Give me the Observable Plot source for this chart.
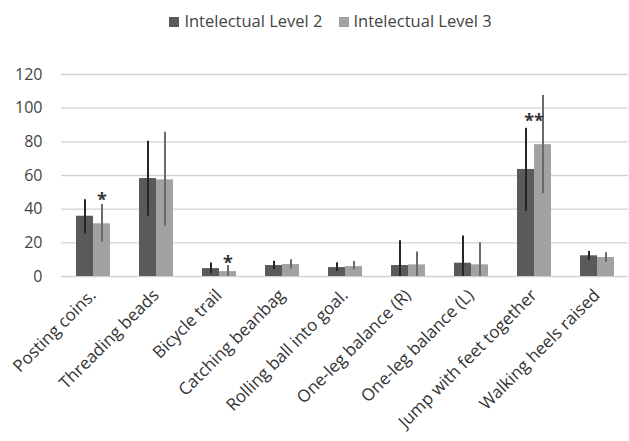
<!DOCTYPE html>
<html><head><meta charset="utf-8">
<script src="https://cdn.jsdelivr.net/npm/d3@7"></script>
<script src="https://cdn.jsdelivr.net/npm/@observablehq/plot@0.6"></script>
<style>
body{margin:0;background:#fff;font-family:"Open Sans",sans-serif;}
#legend{height:40px;display:flex;justify-content:center;align-items:center;gap:16px;font-size:16.5px;color:#444;padding-left:32px;box-sizing:border-box;}
#legend span.sw{display:inline-block;width:10px;height:10px;margin-right:5px;}
</style></head>
<body>
<div id="legend"></div>
<div id="chart"></div>
<script>
const categories = ["Posting coins.","Threading beads","Bicycle trail","Catching beanbag","Rolling ball into goal.","One-leg balance (R)","One-leg balance (L)","Jump with feet together","Walking heels raised"];
const series = ["Intelectual Level 2","Intelectual Level 3"];
const level2 = [35.8, 58.2, 4.7, 6.5, 5.3, 6.5, 7.9, 63.6, 12.3];
const level2Low = [25.3, 35.8, 1.5, 4.0, 3.0, 0, 0, 38.6, 9.7];
const level2High = [45.6, 80.4, 8.0, 9.1, 8.1, 21.2, 24.0, 88.1, 14.9];
const level3 = [31.3, 57.4, 2.9, 7.1, 5.9, 6.9, 6.9, 78.3, 11.3];
const level3Low = [20.4, 29.9, 0, 4.5, 4.0, 0, 0, 49.1, 8.5];
const level3High = [42.8, 85.7, 6.5, 9.9, 8.9, 14.5, 20.0, 107.5, 14.1];
const yTicks = [0, 20, 40, 60, 80, 100, 120];
const marks = [
  {category: "Posting coins.", series: "Intelectual Level 3", y: 47.5, label: "*"},
  {category: "Bicycle trail", series: "Intelectual Level 3", y: 10, label: "*"},
  {category: "Jump with feet together", series: null, y: 94.5, label: "**"}
];
const colors = ["#5a5a5a", "#a2a2a2"];
const errColors = ["#262626", "#6a6a6a"];

const data = [];
categories.forEach((c, i) => {
  data.push({category: c, series: series[0], value: level2[i], lo: level2Low[i], hi: level2High[i]});
  data.push({category: c, series: series[1], value: level3[i], lo: level3Low[i], hi: level3High[i]});
});

const lg = document.getElementById("legend");
series.forEach((s, i) => {
  const d = document.createElement("div");
  d.innerHTML = `<span class="sw" style="background:${colors[i]}"></span>${s}`;
  lg.appendChild(d);
});

const chart = Plot.plot({
  width: 629,
  height: 401,
  marginTop: 34,
  marginBottom: 165,
  marginLeft: 61,
  marginRight: 1,
  style: {fontFamily: "Open Sans, sans-serif", color: "#444", background: "#fff"},
  fx: {domain: categories, padding: 0, label: null, axis: null},
  x: {domain: series, paddingInner: 0, paddingOuter: 0.8, axis: null},
  y: {domain: [0, 120], label: null},
  color: {domain: series, range: colors},
  marks: [
    Plot.ruleY(yTicks, {stroke: "#d6cfcf", strokeWidth: 1.3}),
    Plot.axisY(yTicks, {tickSize: 0, tickPadding: 19, fontSize: 16, fill: "#444", label: null}),
    Plot.axisFx({anchor: "bottom", tickRotate: -45, tickSize: 0, tickPadding: 16, fontSize: 17, fill: "#333", label: null}),
    Plot.barY(data, {fx: "category", x: "series", y: "value", fill: "series"}),
    Plot.ruleX(data, {fx: "category", x: "series", y1: "lo", y2: "hi", stroke: d => errColors[series.indexOf(d.series)], strokeWidth: 2}),
    Plot.text(marks.filter(m => m.series), {fx: "category", x: "series", y: "y", text: "label", fontSize: 18, fontWeight: "bold", fill: "#333", dy: 4}),
    Plot.text(marks.filter(m => !m.series), {fx: "category", y: "y", text: "label", fontSize: 18, fontWeight: "bold", fill: "#333", dy: 4, frameAnchor: "middle"})
  ]
});
document.getElementById("chart").appendChild(chart);
</script>
</body></html>
